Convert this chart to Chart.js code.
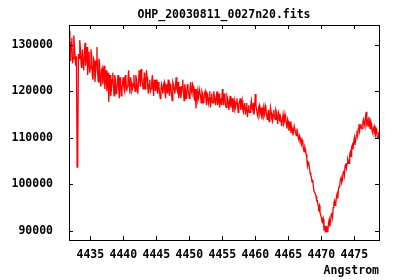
<!DOCTYPE html>
<html>
<head>
<meta charset="utf-8">
<title>OHP_20030811_0027n20.fits</title>
<script src="https://cdn.jsdelivr.net/npm/chart.js@4/dist/chart.umd.min.js"></script>
<style>
    body { margin: 0; background: #fff; }
    canvas { display: block; }
</style>
</head>
<body>
<canvas id="spectrumChart" width="400" height="280"></canvas>
<script>
// Spectrum data
// flux: samples at 4431.8, 4432.0, ... every 0.2 Angstrom
// fluxMid: samples in between, at 4431.9, 4432.1, ...
const wavelengthStart = 4431.8;
const wavelengthStep = 0.2;

const flux = [
    133000, 126500, 131500, 127000, 129500, 125500, 103700, 128000, 131000, 126000,
    129000, 124500, 130400, 127500, 123500, 128500, 125000, 127500, 122500, 126500,
    124000, 129500, 122000, 126000, 121000, 125000, 123500, 120500, 124500, 121500,
    117700, 123500, 120500, 124000, 119000, 122500, 120000, 123500, 118500, 121500,
    120500, 123000, 119900, 122500, 121000, 124500, 119500, 122000, 120500, 123500,
    120000, 122500, 119500, 124500, 121000, 123000, 120500, 124000, 121500, 123000,
    119500, 122500, 120500, 123500, 119000, 121500, 122500, 119500, 121000, 118500,
    121500, 119500, 122000, 118500, 120500, 122500, 119000, 121000, 118000, 121500,
    119500, 123000, 120000, 118500, 121000, 119500, 122500, 118000, 120500, 119000,
    120500, 118500, 122000, 119500, 121000, 118000, 116300, 120000, 118500, 120500,
    117500, 119500, 118000, 120000, 117000, 119000, 118500, 116500, 119500, 117500,
    119000, 117000, 120000, 118000, 116500, 118500, 120500, 117000, 118500, 116500,
    118500, 116000, 119000, 117500, 115500, 118000, 116500, 118500, 115500, 117500,
    116000, 118000, 115500, 117500, 116500, 114500, 117000, 115500, 118000, 116000,
    115000, 119400, 116000, 114500, 117000, 115500, 114000, 116500, 115000, 116500,
    114000, 116000, 114500, 115500, 113500, 116000, 114000, 115500, 113000, 115000,
    114500, 112500, 115000, 113500, 114000, 112000, 113500, 112500, 111000, 112000,
    111500, 112500, 110500, 111000, 109500, 110000, 108500, 109000, 107000, 107500,
    105500, 104800, 103500, 102000, 100500, 99500, 98500, 97500, 96500, 95000,
    94000, 93000, 91800, 90500, 89800, 91000, 90200, 92500, 92000, 94000,
    95000, 96500, 96000, 98000, 99000, 100000, 101500, 101000, 103000, 104000,
    103500, 105500, 104500, 107000, 108000, 107500, 110000, 109500, 111500, 112000,
    111500, 113000, 112000, 114000, 112500, 115600, 113500, 114500, 112000, 113000,
    111000, 112500, 110500, 111500, 110000, 110800
];

const fluxMid = [
    128000, 130500, 126000, 132000, 127000, 127500, 106800, 127000, 129000, 125000,
    126000, 128000, 125500, 129500, 126500, 124000, 129000, 123500, 127000, 122000,
    126500, 124000, 127000, 122500, 124500, 121500, 125500, 123000, 120000, 124000,
    121000, 119000, 122500, 121000, 123500, 119500, 122000, 120500, 123000, 119000,
    122000, 120500, 123500, 120000, 122500, 121500, 123000, 120000, 121500, 121000,
    123500, 120500, 122000, 122500, 124800, 121500, 122500, 120500, 124500, 121000,
    121500, 120000, 122000, 121000, 122500, 120000, 121000, 122000, 119500, 120500,
    120500, 121500, 120000, 121500, 119500, 120500, 121500, 119500, 122000, 120500,
    121000, 120500, 122000, 120000, 118500, 121000, 120000, 121500, 118500, 121500,
    119500, 120500, 120000, 121500, 119000, 120500, 119000, 118000, 120500, 119000,
    120000, 117500, 119500, 118500, 119500, 117500, 120000, 118500, 117500, 120000,
    118000, 119000, 117000, 119500, 118000, 117000, 118500, 119500, 117000, 119000,
    117500, 118000, 116500, 118500, 117000, 116000, 117500, 117000, 117500, 118500,
    117000, 116000, 117000, 115000, 117500, 116000, 115500, 117000, 116500, 117500,
    116500, 117000, 115000, 116500, 115000, 116500, 115500, 114500, 117000, 115000,
    115000, 113500, 116500, 114000, 115000, 114500, 116000, 114000, 115500, 113500,
    113500, 114000, 113000, 115000, 113000, 114000, 111500, 113500, 112500, 110500,
    112500, 111000, 112000, 110000, 110500, 109000, 109500, 107500, 108000, 106500,
    104000, 104500, 102500, 101500, 101000, 98500, 98000, 96500, 95500, 95500,
    93500, 92000, 92500, 90800, 91000, 89900, 91800, 91000, 93500, 93000,
    96000, 95500, 97500, 97000, 99500, 101000, 100500, 102500, 102000, 104500,
    104500, 105000, 106500, 106000, 108500, 109000, 108500, 110500, 110500, 113000,
    112500, 112000, 113500, 113000, 114500, 113000, 112500, 113500, 113500, 111500,
    112000, 111000, 112000, 110000, 111000
];

const xTickValues = [4435, 4440, 4445, 4450, 4455, 4460, 4465, 4470, 4475];
const yTickValues = [90000, 100000, 110000, 120000, 130000];

const plotFont = { family: '"DejaVu Sans Mono", "Liberation Mono", monospace', size: 11.5, weight: 'bold', lineHeight: 1.2 };

// gnuplot-like frame with inward ticks on all four sides
const framePlugin = {
    id: 'frame',
    afterDraw(chart) {
        const ctx = chart.ctx;
        const area = chart.chartArea;
        const xScale = chart.scales.x;
        const yScale = chart.scales.y;
        const tick = 4;

        ctx.save();
        ctx.strokeStyle = '#000';
        ctx.lineWidth = 1;
        ctx.beginPath();
        xTickValues.forEach(v => {
            const px = Math.round(xScale.getPixelForValue(v)) + 0.5;
            ctx.moveTo(px, area.bottom);
            ctx.lineTo(px, area.bottom - tick);
            ctx.moveTo(px, area.top);
            ctx.lineTo(px, area.top + tick);
        });
        yTickValues.forEach(v => {
            const py = Math.round(yScale.getPixelForValue(v)) + 0.5;
            ctx.moveTo(area.left, py);
            ctx.lineTo(area.left + tick, py);
            ctx.moveTo(area.right, py);
            ctx.lineTo(area.right - tick, py);
        });
        ctx.stroke();
        ctx.strokeRect(Math.round(area.left) + 0.5, Math.round(area.top) + 0.5,
            Math.round(area.right - area.left), Math.round(area.bottom - area.top));
        ctx.restore();
    }
};

// interleave the two sample sets in wavelength order
function buildPoints() {
    const points = [];
    flux.forEach((f, i) => {
        const x = wavelengthStart + i * wavelengthStep;
        points.push({ x: x, y: f });
        if (i < fluxMid.length) {
            points.push({ x: x + wavelengthStep / 2, y: fluxMid[i] });
        }
    });
    return points;
}

function initChart() {
    const ctx = document.getElementById('spectrumChart');

    new Chart(ctx, {
        type: 'line',
        data: {
            datasets: [{
                data: buildPoints(),
                borderColor: '#ff0000',
                borderWidth: 1.3,
                pointRadius: 0,
                tension: 0,
                fill: false
            }]
        },
        options: {
            responsive: false,
            animation: false,
            devicePixelRatio: 1,
            layout: { padding: { left: 0, right: 21, top: 0, bottom: 0 } },
            plugins: {
                legend: { display: false },
                tooltip: { enabled: false },
                title: {
                    display: true,
                    text: 'OHP_20030811_0027n20.fits',
                    fullSize: false,
                    color: '#000',
                    font: plotFont,
                    padding: { top: 8, bottom: 3.2 }
                }
            },
            scales: {
                x: {
                    type: 'linear',
                    min: 4431.77,
                    max: 4478.74,
                    afterBuildTicks: scale => { scale.ticks = xTickValues.map(v => ({ value: v })); },
                    afterFit: scale => { scale.height = 40; },
                    grid: { display: false },
                    border: { display: false },
                    ticks: {
                        color: '#000',
                        font: plotFont,
                        padding: 0,
                        maxRotation: 0,
                        callback: v => String(v)
                    },
                    title: {
                        display: true,
                        text: 'Angstrom',
                        align: 'end',
                        color: '#000',
                        font: plotFont,
                        padding: { top: 0, bottom: 2 }
                    }
                },
                y: {
                    min: 88070,
                    max: 134230,
                    afterBuildTicks: scale => { scale.ticks = yTickValues.map(v => ({ value: v })); },
                    afterFit: scale => { scale.width = 69; },
                    grid: { display: false },
                    border: { display: false },
                    ticks: {
                        color: '#000',
                        font: plotFont,
                        padding: 8,
                        callback: v => String(v)
                    }
                }
            }
        },
        plugins: [framePlugin]
    });
}

document.addEventListener('DOMContentLoaded', initChart);
</script>
</body>
</html>
